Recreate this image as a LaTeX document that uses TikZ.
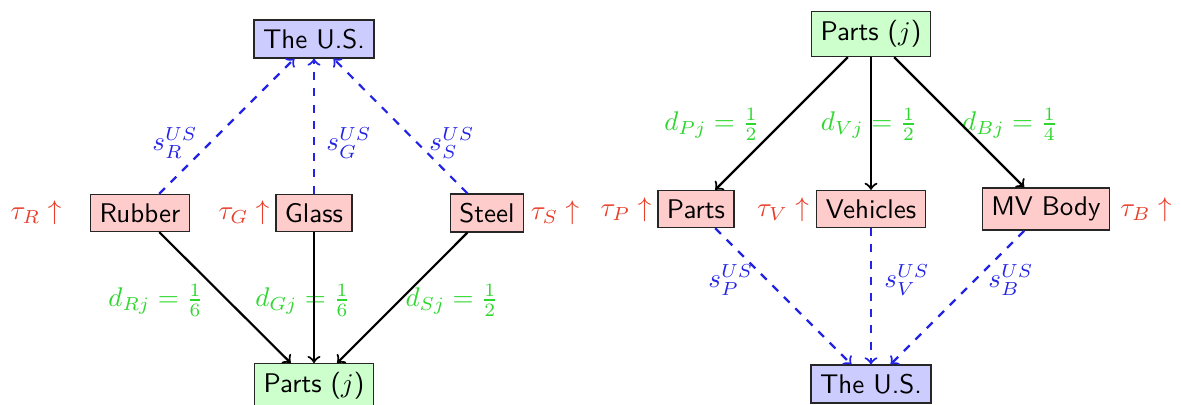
\documentclass[tikz,border=0pt]{standalone}
\usepackage{fontspec}
\definecolor{tred}{RGB}{232,62,42}
\definecolor{dgreen}{RGB}{45,215,45}
\definecolor{sblue}{RGB}{35,35,230}
\begin{document}
\begin{tikzpicture}[x=0.3704pt,y=-0.3704pt,
  box/.style={draw=black!85, line width=0.5pt, inner sep=3.33pt, font=\sffamily},
  rbox/.style={box, fill=red!20},
  bbox/.style={box, fill=blue!20},
  gbox/.style={box, fill=green!20},
  flow/.style={->, thick, black},
  subst/.style={->, thick, dashed, sblue},
  tau/.style={text=tred, inner sep=0pt},
  dlab/.style={text=dgreen, inner sep=0pt},
  slab/.style={text=sblue, inner sep=0pt}]
\useasboundingbox (0,0) rectangle (1181,405);
% ---------- left diagram ----------
\node[bbox] (usL) at (314,39) {The U.S.};
\node[rbox] (rub) at (140,213) {Rubber};
\node[rbox] (gla) at (314,213) {Glass};
\node[rbox] (ste) at (487,213) {Steel};
\node[gbox, anchor=north] (parL) at (314,363) {Parts ($j$)};
\node[tau] (tR) at (36,213) {$\tau_R\uparrow$};
\node[tau] (tG) at (244,213) {$\tau_G\uparrow$};
\node[tau] (tS) at (555,213) {$\tau_S\uparrow$};
\node[slab] (sR) at (175,143) {$s_R^{US}$};
\node[slab] (sG) at (349,143) {$s_G^{US}$};
\node[slab] (sS) at (452,143) {$s_S^{US}$};
\node[dlab] (dR) at (156,300) {$d_{Rj}=\frac{1}{6}$};
\node[dlab] (dG) at (303,300) {$d_{Gj}=\frac{1}{6}$};
\node[dlab] (dS) at (452,300) {$d_{Sj}=\frac{1}{2}$};
\draw[subst] (rub) -- (usL);
\draw[subst] (gla) -- (usL);
\draw[subst] (ste) -- (usL);
\draw[flow] (rub) -- (parL);
\draw[flow] (gla) -- (parL);
\draw[flow] (ste) -- (parL);
% ---------- right diagram ----------
\node[gbox] (parR) at (871,34) {Parts ($j$)};
\node[rbox] (prt) at (696,209) {Parts};
\node[rbox] (veh) at (871,209) {Vehicles};
\node[rbox] (mvb) at (1046,209) {MV Body};
\node[bbox] (usR) at (871,384) {The U.S.};
\node[tau] (tP) at (626,210) {$\tau_P\uparrow$};
\node[tau] (tV) at (783,210) {$\tau_V\uparrow$};
\node[tau] (tB) at (1146,210) {$\tau_B\uparrow$};
\node[dlab] (dP) at (712,124) {$d_{Pj}=\frac{1}{2}$};
\node[dlab] (dV) at (869,124) {$d_{Vj}=\frac{1}{2}$};
\node[dlab] (dB) at (1010,124) {$d_{Bj}=\frac{1}{4}$};
\node[slab] (sP) at (731,280) {$s_P^{US}$};
\node[slab] (sV) at (907,280) {$s_V^{US}$};
\node[slab] (sB) at (1011,280) {$s_B^{US}$};
\draw[flow] (parR) -- (prt);
\draw[flow] (parR) -- (veh);
\draw[flow] (parR) -- (mvb);
\draw[subst] (prt) -- (usR);
\draw[subst] (veh) -- (usR);
\draw[subst] (mvb) -- (usR);
\end{tikzpicture}
\end{document}
